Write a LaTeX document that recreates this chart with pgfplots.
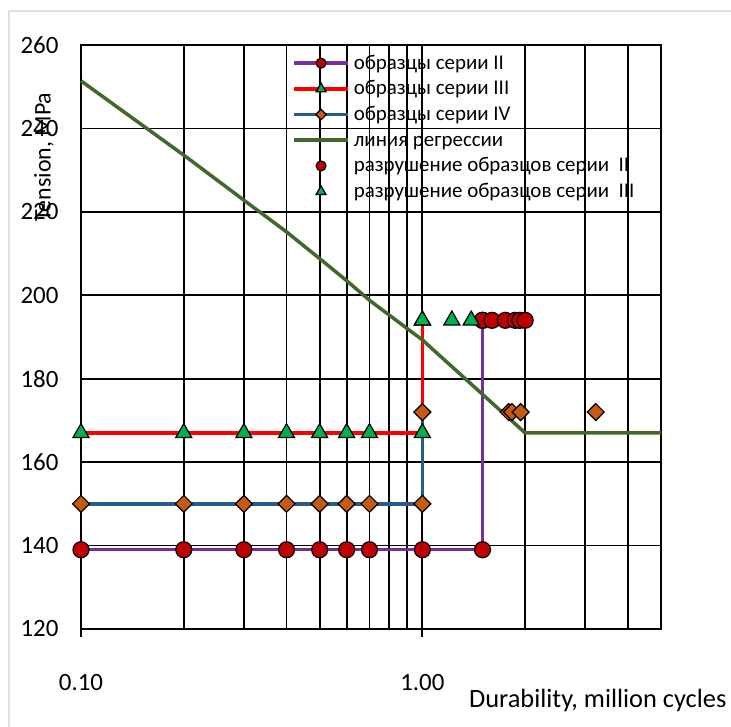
\documentclass[border=0pt]{standalone}
\usepackage{fontspec}
\setmainfont{Carlito}
\usepackage{pgfplots}
\pgfplotsset{compat=1.18}
\definecolor{cPurple}{RGB}{112,48,160}
\definecolor{cRedL}{RGB}{255,0,0}
\definecolor{cBlue}{RGB}{40,90,140}
\definecolor{cGreen}{RGB}{67,104,43}
\definecolor{cCirc}{RGB}{192,0,0}
\definecolor{cTri}{RGB}{0,176,80}
\definecolor{cDia}{RGB}{197,90,17}
\pgfplotsset{
  legend image code/.code={\draw[mark repeat=2,mark phase=2,#1,every mark/.append style={scale=0.62}] plot coordinates {(0bp,0bp)(27bp,0bp)(54bp,0bp)};},
  circ/.style={mark=*, mark size=8bp, mark options={fill=cCirc, draw=black, line width=1.2bp, solid}},
  tri/.style={mark=triangle*, mark size=9.3bp, mark options={fill=cTri, draw=black, line width=1.2bp, solid}},
  dia/.style={mark=square*, mark size=6bp, mark options={fill=cDia, draw=black, line width=1.2bp, solid, rotate=45}},
}
\begin{document}
\begin{tikzpicture}
\useasboundingbox (0,0) rectangle (731bp,727bp);
\fill[white] (0,0) rectangle (731bp,727bp);
\draw[black!12, line width=1.2bp] (9bp,0) -- (9bp,716bp) -- (731bp,716bp);
\begin{axis}[
  at={(81bp,98bp)}, anchor=south west,
  scale only axis, width=580bp, height=584bp,
  xmode=log, xmin=0.1, xmax=5, ymin=120, ymax=260,
  ytick={120,140,...,260},
  xtick={0.1,1}, xticklabels={0.10,1.00},
  minor xtick={0.2,0.3,0.4,0.5,0.6,0.7,0.8,0.9,2,3,4,5},
  xmajorgrids, xminorgrids, ymajorgrids,
  grid style={black, line width=1.8bp},
  minor grid style={black, line width=1.8bp},
  axis line style={black, line width=2bp},
  tick align=outside, xtick pos=bottom, ytick pos=left,
  major tick length=8bp, minor tick length=0pt,
  ytick style={draw=none},
  xtick style={black, line width=1.8bp},
  /pgf/number format/assume math mode=true,
  yticklabel style={font=\fontsize{25}{29}\selectfont, xshift=-11bp},
  xticklabel style={font=\fontsize{25}{29}\selectfont, yshift=-34bp},
  xlabel={Durability, million cycles}, ylabel={Tension, MPa},
  xlabel style={font=\fontsize{26.5}{30}\selectfont, at={(axis description cs:1.119,-0.134)}, anchor=base east},
  ylabel style={font=\fontsize{24}{28}\selectfont, at={(axis description cs:-0.064,0.808)}, anchor=center},
  legend style={at={(axis description cs:0.364,0.990)}, anchor=north west, draw=none, fill=none,
    font=\fontsize{21}{24}\selectfont, row sep=1.5bp, inner sep=0pt, column sep=3bp,
    nodes={inner sep=1bp, text height=17bp, text depth=5.2bp}},
  legend cell align=left,
  clip=false,
]
\addplot[cPurple, line width=3.5bp, circ] coordinates {(0.1,139)(0.2,139)(0.3,139)(0.4,139)(0.5,139)(0.6,139)(0.7,139)(1.0,139)(1.5,139)(1.5,194)};
\addlegendentry{образцы серии II}
\addplot[cRedL, line width=3.5bp, tri] coordinates {(0.1,167)(0.2,167)(0.3,167)(0.4,167)(0.5,167)(0.6,167)(0.7,167)(1.0,167)(1.0,194)};
\addlegendentry{образцы серии III}
\addplot[cBlue, line width=3.5bp, dia] coordinates {(0.1,150)(0.2,150)(0.3,150)(0.4,150)(0.5,150)(0.6,150)(0.7,150)(1.0,150)(1.0,172)};
\addlegendentry{образцы серии IV}
\addplot[cGreen, line width=3.5bp] coordinates {(0.1,251.4)(0.2,233.6)(0.3,222.8)(0.4,215.2)(0.5,208.8)(0.6,203.5)(0.7,198.8)(1.0,189.3)(2.0,167)(5.0,167)};
\addlegendentry{линия регрессии}
\addplot[only marks, circ] coordinates {(1.5,194)(1.6,194)(1.75,194)(1.87,194)(1.93,194)(2.0,194)};
\addlegendentry{разрушение образцов серии \ II}
\addplot[only marks, tri] coordinates {(1.0,194)(1.22,194)(1.39,194)};
\addlegendentry{разрушение образцов серии \ III}
\addplot[only marks, dia, forget plot] coordinates {(1.79,172)(1.83,172)(1.94,172)(3.22,172)};
\end{axis}
\end{tikzpicture}
\end{document}
